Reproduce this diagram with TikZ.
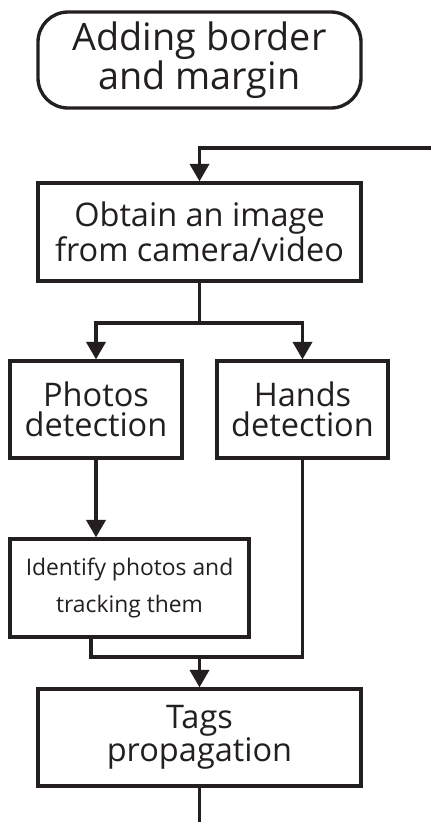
\documentclass[tikz,border=0pt]{standalone}
\usepackage{fontspec}
\setmainfont{Open Sans}
\usetikzlibrary{arrows.meta}
\definecolor{ink}{HTML}{231F20}
\tikzset{>={Triangle[width=11pt,length=10pt]}}

\begin{document}
\begin{tikzpicture}[
    every node/.style={text=ink, align=center},
    box/.style={draw=ink, line width=1.9pt, inner sep=0pt,
        font=\fontsize{18.5}{17}\selectfont},
    link/.style={draw=ink, line width=1.9pt}]
    \useasboundingbox (0,0) rectangle (8.62,-16.44);
    % start of the loop
    \node[box, rounded corners=0.6cm, minimum width=6.46cm, minimum height=1.92cm,
        font=\fontsize{21.5}{17}\selectfont]
        (start) at (3.99,-1.2) {Adding border\\and margin};
    \node[box, minimum width=6.46cm, minimum height=1.96cm]
        (obtain) at (3.99,-4.64) {Obtain an image\\from camera/video};
    \node[box, minimum width=3.44cm, minimum height=1.94cm]
        (photos) at (1.92,-8.19) {Photos\\detection};
    \node[box, minimum width=3.42cm, minimum height=1.94cm]
        (hands) at (6.05,-8.19) {Hands\\detection};
    \node[box, minimum width=4.78cm, minimum height=1.96cm,
        font=\fontsize{13}{21}\selectfont]
        (ident) at (2.59,-11.76) {Identify photos and\\tracking them};
    \node[box, minimum width=6.46cm, minimum height=1.94cm]
        (tags) at (3.99,-14.75) {Tags\\propagation};
    \coordinate (back) at (8.62,-2.96);
    \coordinate (fork) at (3.99,-6.46);
    \coordinate (join) at (3.99,-13.14);
    \coordinate (out) at (3.99,-16.44);
    % connectors
    \draw[link, ->] (back) -| (obtain.north);
    \draw[link] (obtain.south) -- (fork);
    \draw[link, ->] (fork) -| (photos.north);
    \draw[link, ->] (fork) -| (hands.north);
    \draw[link, ->] (photos.south) -- (photos.south |- ident.north);
    \draw[link] ([xshift=-0.77cm]ident.south) |- (join);
    \draw[link] (hands.south) |- (join);
    \draw[link, ->] (join) -- (tags.north);
    \draw[link] (tags.south) -- (out);
\end{tikzpicture}
\end{document}
